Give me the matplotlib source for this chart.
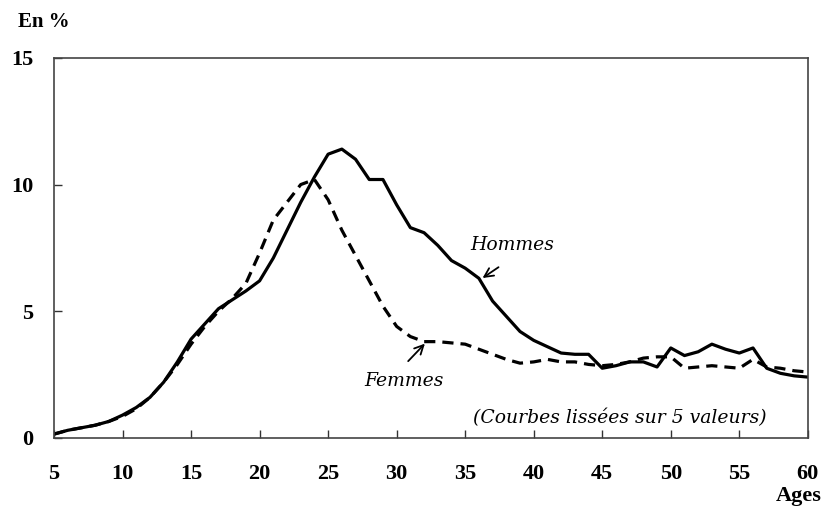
# courbes d'âge hommes / femmes, lissées sur 5 valeurs

import numpy as np
import matplotlib.pyplot as plt

ages = np.arange(5, 61)

hommes = [0.15, 0.3, 0.4, 0.5, 0.65, 0.9, 1.2, 1.6, 2.2, 3.0,
          3.9, 4.5, 5.1, 5.45, 5.8, 6.2, 7.1, 8.2, 9.3, 10.3,
          11.2, 11.4, 11.0, 10.2, 10.2, 9.2, 8.3, 8.1, 7.6, 7.0,
          6.7, 6.3, 5.4, 4.8, 4.2, 3.85, 3.6, 3.35, 3.3, 3.3,
          2.75, 2.85, 3.0, 3.0, 2.8, 3.55, 3.25, 3.4, 3.7, 3.5,
          3.35, 3.55, 2.75, 2.55, 2.45, 2.4]

femmes = [0.15, 0.3, 0.4, 0.5, 0.65, 0.85, 1.15, 1.6, 2.2, 2.9,
          3.7, 4.4, 5.0, 5.5, 6.1, 7.3, 8.6, 9.3, 10.0, 10.2,
          9.4, 8.2, 7.2, 6.2, 5.2, 4.4, 4.0, 3.8, 3.8, 3.75,
          3.7, 3.5, 3.3, 3.1, 2.95, 3.0, 3.1, 3.0, 3.0, 2.9,
          2.85, 2.9, 3.0, 3.15, 3.2, 3.2, 2.75, 2.8, 2.85, 2.8,
          2.75, 3.1, 2.8, 2.75, 2.65, 2.6]

serif = ['Liberation Serif', 'DejaVu Serif']
slab = ['DejaVu Serif']

fig = plt.figure(figsize=(8.26, 5.08), dpi=100)
ax = fig.add_axes([0.0654, 0.138, 0.9126, 0.748])

ax.plot(ages, hommes, color='black', lw=2.3, solid_joinstyle='round')
ax.plot(ages, femmes, color='black', lw=2.3, dashes=(3.5, 2.2))

ax.set_xlim(5, 60)
ax.set_ylim(0, 15)
ax.set_xticks(range(5, 61, 5))
ax.set_yticks([0, 5, 10, 15])
ax.tick_params(direction='in', length=6, width=1, color='#333333')
ax.tick_params(axis='x', pad=19)
ax.tick_params(axis='y', pad=15)
for lab in ax.get_xticklabels() + ax.get_yticklabels():
    lab.set_fontfamily(serif)
    lab.set_fontweight('bold')
    lab.set_fontsize(16)
for sp in ax.spines.values():
    sp.set_color('#444444')
    sp.set_linewidth(1.2)

fig.text(0.022, 0.957, 'En %', family=serif, weight='bold', fontsize=15, ha='left', va='center')
fig.text(0.995, 0.024, 'Ages', family=serif, weight='bold', fontsize=16, ha='right', va='center')

# annotations
ax.text(38.4, 7.6, 'Hommes', family=slab, style='italic', fontsize=13.5, ha='center', va='center')
ax.annotate('', xy=(36.1, 6.25), xytext=(37.6, 6.8),
            arrowprops=dict(arrowstyle='->', color='black', lw=1.3, mutation_scale=16))
ax.text(30.5, 2.25, 'Femmes', family=slab, style='italic', fontsize=13.5, ha='center', va='center')
ax.annotate('', xy=(32.2, 3.8), xytext=(30.7, 2.95),
            arrowprops=dict(arrowstyle='->', color='black', lw=1.3, mutation_scale=16))
ax.text(46.3, 0.8, '(Courbes lissées sur 5 valeurs)', family=slab, style='italic',
        fontsize=13.5, ha='center', va='center')

fig.savefig('out.png', dpi=100)
